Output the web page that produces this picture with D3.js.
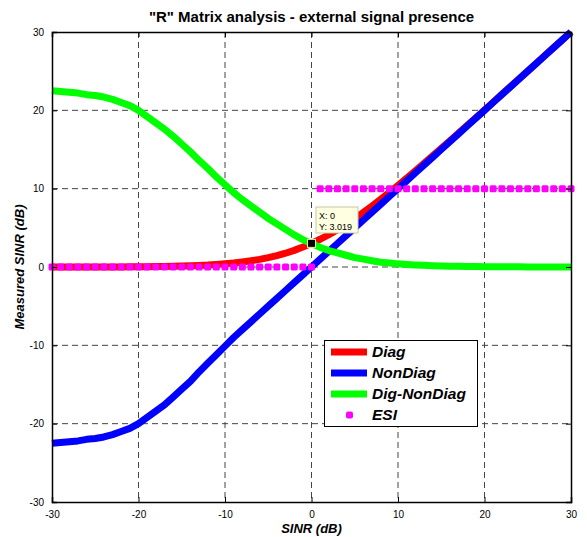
<!DOCTYPE html>
<html><head><meta charset="utf-8">
<script src="https://cdn.jsdelivr.net/npm/d3@7"></script>
<style>body{margin:0;background:#fff}svg{display:block}text{font-family:Arial,"Liberation Sans",sans-serif}</style>
</head><body><svg id="c" width="587" height="537"></svg>
<script>
const xValues = d3.range(-30, 31);
const diag = [0.0,0.0,0.0,0.0,0.0,0.01,0.01,0.01,0.01,0.02,0.03,0.04,0.05,0.07,0.09,0.12,0.15,0.2,0.25,0.33,0.41,0.5,0.64,0.79,0.97,1.19,1.46,1.76,2.12,2.54,3.019,3.54,4.12,4.76,5.46,6.19,6.97,7.79,8.64,9.51,10.41,11.33,12.27,13.21,14.17,15.13,16.11,17.09,18.07,19.05,20.04,21.03,22.03,23.02,24.02,25.01,26.01,27.01,28.01,29.0,30.0];
const nonDiag = [-22.5,-22.4,-22.3,-22.2,-22.0,-21.9,-21.7,-21.4,-21.0,-20.6,-20.0,-19.2,-18.4,-17.6,-16.6,-15.6,-14.6,-13.4,-12.3,-11.2,-10.1,-9.0,-8.0,-7.0,-6.0,-5.0,-4.0,-3.0,-2.0,-1.0,0.0,1.0,2.0,3.0,4.0,5.0,6.0,7.0,8.0,9.0,10.0,11.0,12.0,13.0,14.0,15.0,16.0,17.0,18.0,19.0,20.0,21.0,22.0,23.0,24.0,25.0,26.0,27.0,28.0,29.0,30.0];
const digNonDiag = [22.5,22.4,22.3,22.2,22.0,21.9,21.7,21.4,21.0,20.6,20.0,19.2,18.4,17.6,16.7,15.7,14.7,13.6,12.6,11.5,10.5,9.5,8.6,7.8,7.0,6.2,5.5,4.8,4.1,3.5,3.0,2.5,2.1,1.8,1.5,1.2,1.0,0.8,0.6,0.5,0.4,0.33,0.27,0.21,0.17,0.13,0.11,0.09,0.07,0.05,0.04,0.03,0.03,0.02,0.02,0.01,0.01,0.01,0.01,0.0,0.0];
const esi = [0,0,0,0,0,0,0,0,0,0,0,0,0,0,0,0,0,0,0,0,0,0,0,0,0,0,0,0,0,0,0,10,10,10,10,10,10,10,10,10,10,10,10,10,10,10,10,10,10,10,10,10,10,10,10,10,10,10,10,10,10];
const xTicks = [-30,-20,-10,0,10,20,30];
const yTicks = [-30,-20,-10,0,10,20,30];
const seriesNames = ["Diag","NonDiag","Dig-NonDiag","ESI"];
const seriesColors = ["#ff0000","#0000ff","#00ff00","#ff00ff"];
const dataTip = {x: 0, y: 3.019};

const svg = d3.select("#c");
const L = 52, R = 571, T = 32, B = 502;
const x = d3.scaleLinear().domain([-30, 30]).range([L, R]);
const y = d3.scaleLinear().domain([-30, 30]).range([B, T]);
const fmt = d => String(d);

// grid
const grid = svg.append("g");
xTicks.slice(1, -1).forEach(t => grid.append("line").attr("x1", x(t)).attr("x2", x(t)).attr("y1", T).attr("y2", B)
  .attr("stroke", "#444").attr("stroke-width", 1).attr("stroke-dasharray", "6,4"));
yTicks.slice(1, -1).forEach(t => grid.append("line").attr("y1", y(t)).attr("y2", y(t)).attr("x1", L).attr("x2", R)
  .attr("stroke", "#444").attr("stroke-width", 1).attr("stroke-dasharray", "6,4"));

// lines
const line = vals => d3.line().x((d, i) => x(xValues[i])).y(d => y(d))(vals);
[[diag, 0], [nonDiag, 1], [digNonDiag, 2]].forEach(([vals, k]) => {
  svg.append("path").attr("d", line(vals)).attr("fill", "none").attr("stroke", seriesColors[k])
    .attr("stroke-width", 7).attr("stroke-linejoin", "round").attr("stroke-linecap", "butt");
});
svg.append("g").selectAll("rect").data(esi).join("rect")
  .attr("x", (d, i) => x(xValues[i]) - 3.5).attr("y", d => y(d) - 3.5)
  .attr("width", 7).attr("height", 7).attr("rx", 1.5).attr("fill", seriesColors[3]);

// axes
const ax = svg.append("g");
ax.append("g").attr("transform", `translate(0,${B})`)
  .call(d3.axisBottom(x).tickValues(xTicks).tickSize(-5).tickPadding(9).tickFormat(fmt));
ax.append("g").attr("transform", `translate(0,${T})`)
  .call(d3.axisTop(x).tickValues(xTicks).tickSize(-5).tickFormat(""));
ax.append("g").attr("transform", `translate(${L},0)`)
  .call(d3.axisLeft(y).tickValues(yTicks).tickSize(-5).tickPadding(8).tickFormat(fmt));
ax.append("g").attr("transform", `translate(${R},0)`)
  .call(d3.axisRight(y).tickValues(yTicks).tickSize(-5).tickFormat(""));
ax.selectAll(".domain").attr("stroke", "#000").attr("stroke-width", 1.5);
ax.selectAll(".tick line").attr("stroke", "#000");
ax.selectAll(".tick text").attr("font-size", 10).attr("fill", "#000").attr("font-family", "Arial, 'Liberation Sans', sans-serif");

// data tip
svg.append("rect").attr("x", x(dataTip.x) - 4).attr("y", y(dataTip.y) - 4).attr("width", 8).attr("height", 8)
  .attr("fill", "#000").attr("stroke", "#f4f0c0").attr("stroke-width", 1);
const tipG = svg.append("g");
tipG.append("rect").attr("x", 316).attr("y", 207).attr("width", 42).attr("height", 26)
  .attr("fill", "#ffffe1").attr("stroke", "#c8c8a0").attr("stroke-width", 1);
tipG.append("text").attr("x", 319).attr("y", 219).attr("font-size", 9).text(`X: ${dataTip.x}`);
tipG.append("text").attr("x", 319).attr("y", 230).attr("font-size", 9).text(`Y: ${dataTip.y}`);

// legend
const lg = svg.append("g");
lg.append("rect").attr("x", 324.5).attr("y", 340.5).attr("width", 153).attr("height", 86)
  .attr("fill", "#fff").attr("stroke", "#000").attr("stroke-width", 1);
const ly = [352, 373, 394, 415];
seriesNames.forEach((n, i) => {
  if (i < 3) lg.append("line").attr("x1", 331).attr("x2", 367).attr("y1", ly[i]).attr("y2", ly[i])
    .attr("stroke", seriesColors[i]).attr("stroke-width", 7);
  else lg.append("rect").attr("x", 346).attr("y", ly[i] - 3.5).attr("width", 7).attr("height", 7).attr("rx", 2)
    .attr("fill", seriesColors[i]);
  lg.append("text").attr("x", 372).attr("y", ly[i] + 5).attr("font-size", 15.5).attr("font-weight", "bold")
    .attr("font-style", "italic").text(n);
});

// titles
svg.append("text").attr("x", (L + R) / 2).attr("y", 22).attr("text-anchor", "middle")
  .attr("font-size", 15).attr("font-weight", "bold").text('"R" Matrix analysis - external signal presence');
svg.append("text").attr("x", (L + R) / 2).attr("y", 533).attr("text-anchor", "middle")
  .attr("font-size", 13).attr("font-weight", "bold").attr("font-style", "italic").text("SINR (dB)");
svg.append("text").attr("transform", `translate(24,${(T + B) / 2}) rotate(-90)`).attr("text-anchor", "middle")
  .attr("font-size", 13).attr("font-weight", "bold").attr("font-style", "italic").text("Measured SINR (dB)");
</script></body></html>
